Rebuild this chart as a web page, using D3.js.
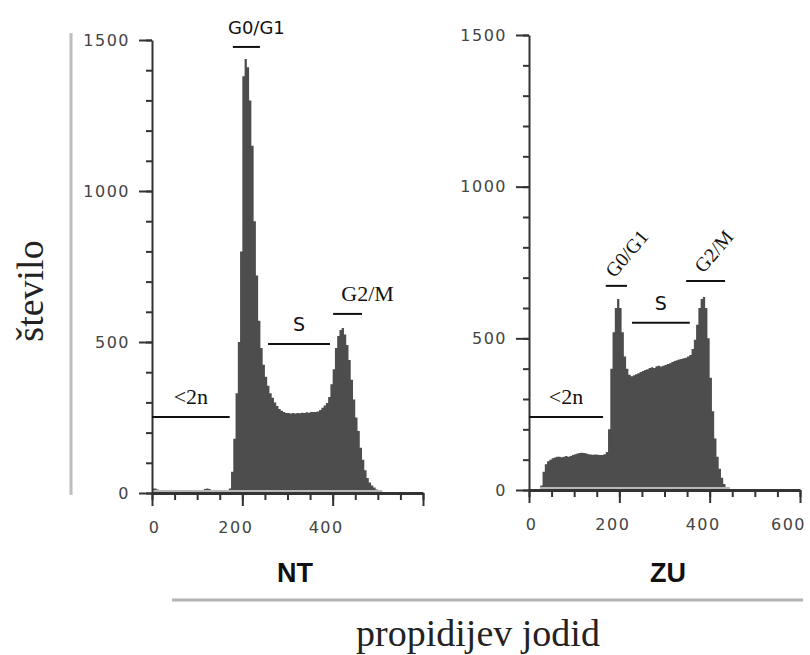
<!DOCTYPE html>
<html lang="sl">
<head>
<meta charset="UTF-8">
<title>Pretočna citometrija</title>
<script src="https://d3js.org/d3.v7.min.js"></script>
<style>
  body { margin: 0; background: #fff; }
  .tick text { font-family: "DejaVu Sans", sans-serif; font-size: 16px; fill: #444; letter-spacing: 1.5px; }
  .domain, .tick line { stroke: #333; }
</style>
</head>
<body>
<div id="chart"></div>
<script>
// bin starts (propidijev jodid channel), 5 units per bin
const channels = d3.range(0, 600, 5);

// NT histogram counts
const ntCounts = [
  15, 15, 12, 10, 8, 8, 7, 8, 8, 7, 8, 8, 7, 8, 8, 8, 7, 8, 8, 8,
  8, 9, 10, 13, 15, 13, 10, 8, 8, 7, 8, 8, 8, 9, 15, 70, 180, 330, 500, 800,
  1380, 1437, 1410, 1300, 1150, 900, 720, 570, 480, 425, 385, 355, 330, 315, 300, 288, 278, 272, 268, 265,
  265, 263, 265, 263, 265, 264, 266, 265, 267, 266, 268, 268, 268, 270, 275, 282, 290, 298, 318, 360,
  410, 480, 520, 540, 546, 525, 490, 440, 375, 310, 250, 205, 150, 110, 75, 50, 35, 25, 18, 12,
  6, 2, 0, 0, 0, 0, 0, 0, 0, 0, 0, 0, 0, 0, 0, 0, 0, 0, 0, 0
];

// ZU histogram counts
const zuCounts = [
  0, 0, 0, 0, 0, 15, 60, 85, 95, 100, 105, 107, 110, 110, 108, 110, 112, 110, 112, 115,
  118, 120, 122, 123, 122, 120, 118, 117, 116, 117, 116, 115, 115, 118, 125, 200, 400, 520, 600, 630,
  600, 520, 440, 400, 380, 375, 378, 382, 385, 389, 392, 396, 398, 402, 405, 402, 408, 410, 407, 410,
  412, 415, 418, 422, 425, 428, 430, 432, 434, 436, 440, 445, 465, 495, 545, 600, 630, 636, 600, 500,
  370, 260, 170, 110, 70, 40, 20, 8, 2, 0, 0, 0, 0, 0, 0, 0, 0, 0, 0, 0,
  0, 0, 0, 0, 0, 0, 0, 0, 0, 0, 0, 0, 0, 0, 0, 0, 0, 0, 0, 0
];

// gates: label, from, to, level (channel / count units)
const ntGates = [
  ["<2n", 0, 172, 252],
  ["G0/G1", 179, 239, 1477],
  ["S", 257, 394, 493],
  ["G2/M", 401, 465, 593]
];
const zuGates = [
  ["<2n", 0, 164, 241],
  ["G0/G1", 170, 217, 673],
  ["S", 228, 356, 551],
  ["G2/M", 348, 434, 689]
];

const yTicks = [0, 500, 1000, 1500];
const ntXLabels = [0, 200, 400];
const zuXLabels = [0, 200, 400, 600];

const svg = d3.select("#chart")
  .append("svg")
  .attr("width", 810)
  .attr("height", 655);

svg.append("rect").attr("width", 810).attr("height", 655).attr("fill", "#fff");

function drawPanel(opt) {
  const x = d3.scaleLinear().domain([0, 600]).range(opt.xr);
  const y = d3.scaleLinear().domain([0, 1500]).range(opt.yr);
  const g = svg.append("g");

  // histogram
  const pts = channels.map((c, i) => [c, opt.counts[i]]);
  pts.push([600, 0]);
  const area = d3.area()
    .x(d => x(d[0]))
    .y0(y(0))
    .y1(d => y(d[1]))
    .curve(d3.curveStepAfter);
  g.append("path").datum(pts).attr("d", area).attr("fill", "#4d4d4d");

  // light strip along the base of the histogram
  const nz = pts.filter(d => d[1] > 0);
  g.append("line")
    .attr("x1", x(nz[0][0])).attr("x2", x(nz[nz.length - 1][0] + 5))
    .attr("y1", y(0) - 2).attr("y2", y(0) - 2)
    .attr("stroke", "#b8b8b8").attr("stroke-width", 2);

  // y axis
  g.append("g").attr("transform", `translate(${opt.xr[0]},0)`)
    .call(d3.axisLeft(y).tickValues(d3.range(0, 1501, 100)).tickSize(6).tickSizeOuter(0).tickFormat(""))
    .call(a => a.selectAll("line, path").attr("stroke-width", 2));
  g.append("g").attr("transform", `translate(${opt.xr[0]},0)`)
    .call(d3.axisLeft(y).tickValues(yTicks).tickSize(13).tickSizeOuter(0).tickPadding(9).tickFormat(d3.format("d")))
    .call(a => a.selectAll("line, path").attr("stroke-width", 2))
    .call(a => a.select(".domain").remove());

  // x axis
  g.append("g").attr("transform", `translate(0,${opt.yr[0]})`)
    .call(d3.axisBottom(x).tickValues(d3.range(0, 601, 50)).tickSize(7).tickSizeOuter(0).tickFormat(""))
    .call(a => a.select(".domain").attr("stroke-width", 3))
    .call(a => a.selectAll(".tick line").attr("stroke-width", 2));
  g.append("g").attr("transform", `translate(0,${opt.yr[0]})`)
    .call(d3.axisBottom(x).tickValues([0, 200, 400, 600]).tickSize(13).tickSizeOuter(0).tickPadding(16)
      .tickFormat(d => opt.xLabels.includes(d) ? d3.format("d")(d) : ""))
    .call(a => a.select(".domain").remove())
    .call(a => a.selectAll(".tick line").attr("stroke-width", 2))
    .call(a => a.selectAll(".tick text").attr("dx", d => d === 0 ? 2 : (d === 600 ? -12 : -7)));

  // gates
  opt.gates.forEach(([label, from, to, level]) => {
    const yy = y(level);
    g.append("line")
      .attr("x1", x(from)).attr("x2", x(to))
      .attr("y1", yy).attr("y2", yy)
      .attr("stroke", "#111").attr("stroke-width", 2);
    const rotated = opt.rotate.includes(label);
    const t = g.append("text").text(label).attr("fill", "#111");
    if (rotated) {
      const sx = (x(from) + x(to)) / 2 - 2;
      t.attr("transform", `translate(${sx},${yy - 7}) rotate(-50)`)
        .attr("font-family", "Liberation Serif, serif").attr("font-size", 20);
    } else {
      const sans = opt.sans.includes(label);
      t.attr("x", (x(from) + x(to)) / 2 + (opt.dx[label] || 0))
        .attr("y", yy - 13)
        .attr("text-anchor", "middle")
        .attr("font-family", sans ? "DejaVu Sans, sans-serif" : "Liberation Serif, serif")
        .attr("font-size", sans ? (label === "S" ? 19 : 18) : 22);
    }
  });

  // panel title
  svg.append("text")
    .attr("x", opt.titleX).attr("y", 582)
    .attr("text-anchor", "middle")
    .attr("font-family", "Liberation Sans, Arial, sans-serif")
    .attr("font-weight", "bold").attr("font-size", 27)
    .attr("fill", "#111")
    .text(opt.title);
}

drawPanel({
  counts: ntCounts, gates: ntGates, xLabels: ntXLabels,
  xr: [152, 423], yr: [493, 40], title: "NT", titleX: 295,
  rotate: [], sans: ["G0/G1", "S"], dx: { "G0/G1": 10, "G2/M": 20 }
});
drawPanel({
  counts: zuCounts, gates: zuGates, xLabels: zuXLabels,
  xr: [529, 800], yr: [490, 35], title: "ZU", titleX: 668,
  rotate: ["G0/G1", "G2/M"], sans: ["S"], dx: {}
});

// shared axis titles
svg.append("line")
  .attr("x1", 71).attr("x2", 71).attr("y1", 33).attr("y2", 495)
  .attr("stroke", "#bdbdbd").attr("stroke-width", 3);
svg.append("line")
  .attr("x1", 172).attr("x2", 803).attr("y1", 600).attr("y2", 600)
  .attr("stroke", "#b3b3b3").attr("stroke-width", 3);

svg.append("text")
  .attr("transform", "translate(43,291) rotate(-90)")
  .attr("text-anchor", "middle")
  .attr("font-family", "Liberation Serif, serif").attr("font-size", 38)
  .attr("fill", "#222")
  .text("število");

svg.append("text")
  .attr("x", 478).attr("y", 646)
  .attr("text-anchor", "middle")
  .attr("font-family", "Liberation Serif, serif").attr("font-size", 38)
  .attr("fill", "#222")
  .text("propidijev jodid");
</script>
</body>
</html>
